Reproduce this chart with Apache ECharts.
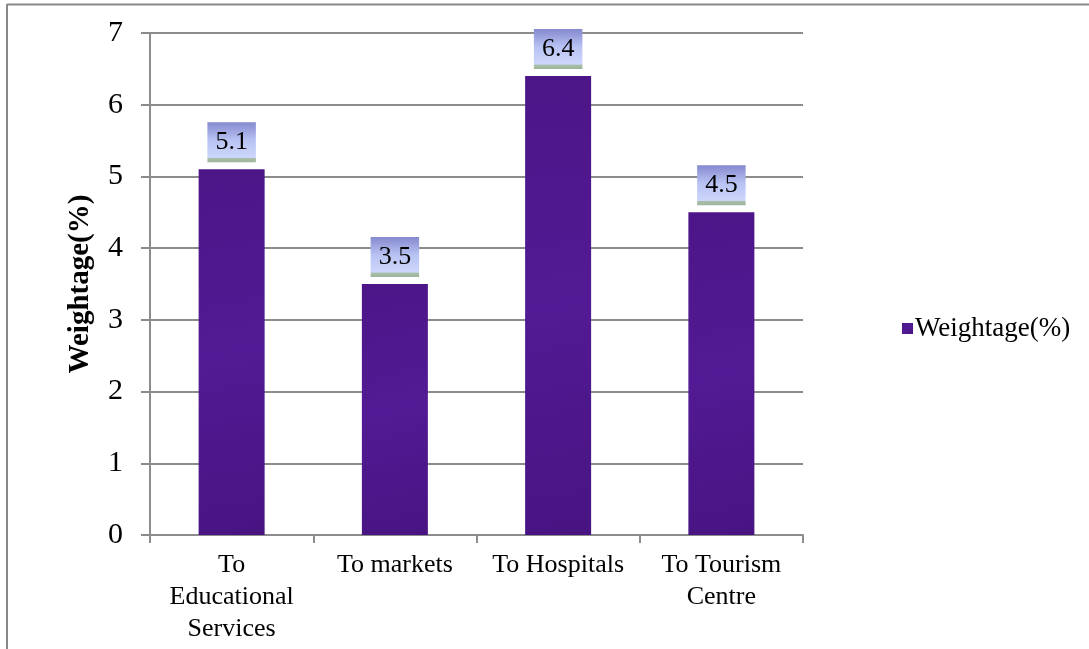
<!DOCTYPE html>
<html>
<head>
<meta charset="utf-8">
<script src="https://cdn.jsdelivr.net/npm/echarts@6/dist/echarts.min.js"></script>
<style>
  html, body { margin: 0; padding: 0; background: #fff; }
  #chart { width: 1089px; height: 649px; }
</style>
</head>
<body>
<div id="chart"></div>
<script>
// Weightage of accessibility factors
var categories = ['To\nEducational\nServices', 'To markets', 'To Hospitals', 'To Tourism\nCentre'];
var seriesName = 'Weightage(%)';
var weightage = [5.1, 3.5, 6.4, 4.5];
var yTicks = [0, 1, 2, 3, 4, 5, 6, 7];

var serif = '"Liberation Serif", "DejaVu Serif", serif';
var chart = echarts.init(document.getElementById('chart'));

chart.setOption({
  backgroundColor: '#ffffff',
  animation: false,
  textStyle: { fontFamily: serif },
  graphic: [
    { type: 'line', shape: { x1: 7, y1: 4.5, x2: 1089, y2: 4.5 }, style: { stroke: '#888', lineWidth: 2 } },
    { type: 'line', shape: { x1: 7, y1: 4, x2: 7, y2: 649 }, style: { stroke: '#888', lineWidth: 2 } }
  ],
  grid: { left: 150, top: 33, right: 286, bottom: 114, containLabel: false },
  legend: {
    data: [seriesName],
    orient: 'vertical',
    left: 897,
    top: 310,
    itemWidth: 11,
    itemHeight: 11,
    itemGap: 4,
    icon: 'rect',
    textStyle: { fontFamily: serif, fontSize: 27, color: '#000', padding: [0, 0, 0, -3] }
  },
  xAxis: {
    type: 'category',
    data: categories,
    axisLine: { lineStyle: { color: '#8c8c8c', width: 2 } },
    axisTick: { show: true, length: 8, lineStyle: { color: '#8c8c8c', width: 2 } },
    axisLabel: { color: '#000', fontFamily: serif, fontSize: 26, lineHeight: 32, margin: 14, interval: 0 }
  },
  yAxis: {
    type: 'value',
    min: yTicks[0],
    max: yTicks[yTicks.length - 1],
    interval: 1,
    name: seriesName,
    nameLocation: 'middle',
    nameGap: 55,
    nameRotate: 90,
    nameTextStyle: { fontFamily: serif, fontSize: 29, fontWeight: 'bold', color: '#000' },
    axisLine: { show: true, lineStyle: { color: '#8c8c8c', width: 2 } },
    axisTick: { show: true, length: 9, lineStyle: { color: '#8c8c8c', width: 2 } },
    axisLabel: { color: '#000', fontFamily: serif, fontSize: 30, margin: 27 },
    splitLine: { show: true, lineStyle: { color: '#8c8c8c', width: 2 } }
  },
  series: [{
    name: seriesName,
    type: 'bar',
    data: weightage,
    barWidth: 66,
    itemStyle: {
      color: {
        type: 'linear', x: 0, y: 0, x2: 1, y2: 1,
        colorStops: [
          { offset: 0, color: '#4c1688' },
          { offset: 0.5, color: '#521a94' },
          { offset: 1, color: '#481482' }
        ]
      }
    },
    label: {
      show: true,
      position: 'top',
      distance: 7,
      fontFamily: serif,
      fontSize: 26,
      color: '#000',
      padding: [7, 8, 7, 8],
      lineHeight: 26,
      backgroundColor: {
        type: 'linear', x: 0, y: 0, x2: 0, y2: 1,
        colorStops: [
          { offset: 0, color: '#8589cf' },
          { offset: 0.45, color: '#b9c3f3' },
          { offset: 0.88, color: '#cdd6fb' },
          { offset: 0.9, color: '#a9bea8' },
          { offset: 1, color: '#9db59c' }
        ]
      }
    }
  }]
});
</script>
</body>
</html>
